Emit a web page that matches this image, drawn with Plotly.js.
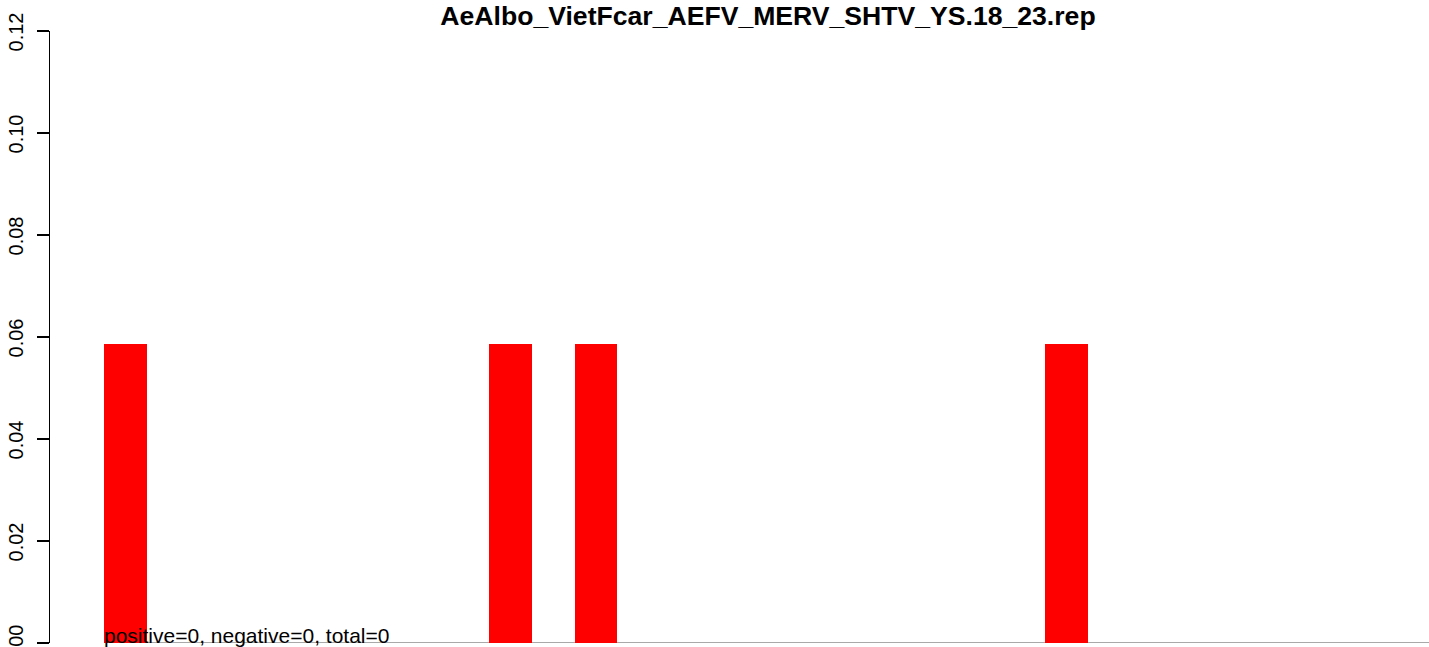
<!DOCTYPE html>
<html>
<head>
<meta charset="utf-8">
<script src="https://cdn.plot.ly/plotly-3.0.1.min.js"></script>
<style>html,body{margin:0;padding:0;background:#fff;}#chart{width:1429px;height:647px;}</style>
</head>
<body>
<div id="chart"></div>
<script>
// Data
const titleText = "AeAlbo_VietFcar_AEFV_MERV_SHTV_YS.18_23.rep";
const positions = [0,1,2,3,4,5,6,7,8,9,10,11,12,13,14,15,16,17,18,19,20,21,22,23,24,25,26,27,28,29,30];
const values = [0.0586,0,0,0,0,0,0,0,0,0.0586,0,0.0586,0,0,0,0,0,0,0,0,0,0,0.0586,0,0,0,0,0,0,0,0];
const yTickVals = [0, 0.02, 0.04, 0.06, 0.08, 0.10, 0.12];
const yTickText = ["0.00", "0.02", "0.04", "0.06", "0.08", "0.10", "0.12"];
const footText = "positive=0, negative=0, total=0";

const font = "Liberation Sans, Arial, Helvetica, sans-serif";

const trace = {
  type: 'bar',
  x: positions,
  y: values,
  width: 1,
  marker: {color: '#ff0000', line: {width: 0}},
  hoverinfo: 'none'
};

const layout = {
  width: 1429, height: 647,
  margin: {l: 50, r: 0, t: 31, b: 4, pad: 0},
  paper_bgcolor: '#fff', plot_bgcolor: '#fff',
  showlegend: false,
  bargap: 0,
  title: {
    text: '<b>' + titleText + '</b>',
    font: {family: font, size: 26.6, color: '#000'},
    x: 768/1429, xanchor: 'center', xref: 'container',
    y: 0.9904, yanchor: 'top', yref: 'container'
  },
  xaxis: {
    range: [-1.770, 30.487],
    visible: false, fixedrange: true
  },
  yaxis: {
    range: [0, 0.12],
    tickvals: yTickVals, ticktext: yTickText,
    tickangle: -90,
    ticks: 'outside', ticklen: 12, tickwidth: 1.2, tickcolor: '#000',
    showline: true, linecolor: '#000', linewidth: 1.2,
    showgrid: false, zeroline: false,
    tickfont: {family: font, size: 20, color: '#000'},
    ticklabelstandoff: 6,
    ticklabelshift: 4,
    ticklabeloverflow: 'allow',
    fixedrange: true
  },
  shapes: [{
    type: 'line', layer: 'below', xref: 'x', yref: 'y',
    x0: positions[0] - 0.5, x1: positions[positions.length - 1] + 0.5, y0: 0, y1: 0,
    line: {color: '#a9a9a9', width: 2}
  }],
  annotations: [{
    text: footText, xref: 'x', yref: 'y',
    x: positions[0] - 0.5, y: 0, xanchor: 'left', yanchor: 'bottom',
    yshift: -6, xshift: -2, showarrow: false,
    font: {family: font, size: 21, color: '#000'}
  }]
};

Plotly.newPlot('chart', [trace], layout, {staticPlot: true, displayModeBar: false});
</script>
</body>
</html>
